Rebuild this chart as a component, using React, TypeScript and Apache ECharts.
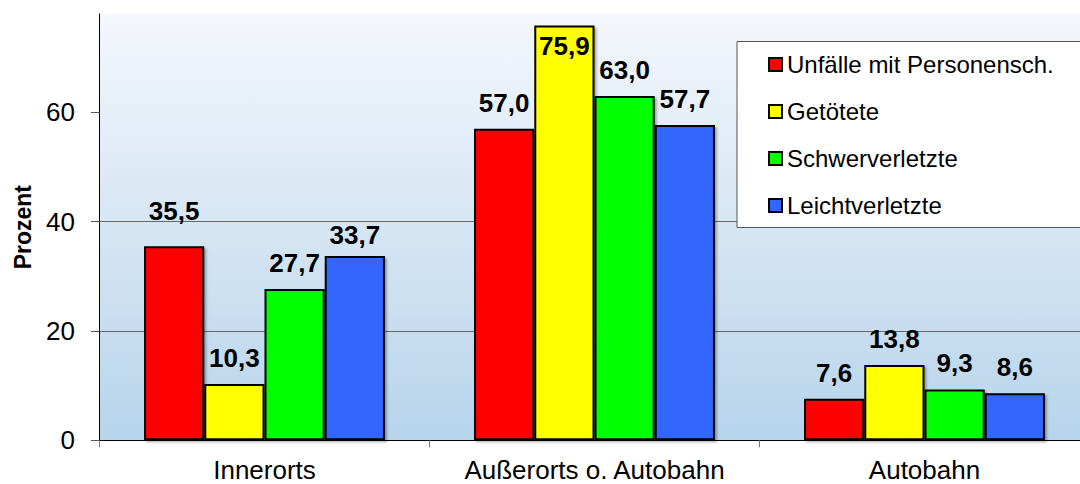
import React, { useEffect, useRef } from "react";
import * as echarts from "echarts";

const categories = ["Innerorts", "Außerorts o. Autobahn", "Autobahn"];
const seriesNames = ["Unfälle mit Personensch.", "Getötete", "Schwerverletzte", "Leichtverletzte"];
const unfaelle = [35.5, 57.0, 7.6];
const getoetete = [10.3, 75.9, 13.8];
const schwer = [27.7, 63.0, 9.3];
const leicht = [33.7, 57.7, 8.6];
const yTicks = [0, 20, 40, 60];
const colors = ["#ff0000", "#ffff00", "#00ff00", "#3366ff"];

const FONT = "'Liberation Sans', Arial, sans-serif";

// label placement tweaks (series index, category index) -> distance
function labelFor(si: number, ci: number, v: number) {
  if (v > 70) return { position: "insideTop", distance: 8 };
  if (si === 0 && ci === 0) return { distance: 22 };
  if (si === 3 && ci === 0) return { distance: 8 };
  return undefined;
}

export default function App() {
  const ref = useRef<HTMLDivElement>(null);
  useEffect(() => {
    if (!ref.current) return;
    const chart = echarts.init(ref.current, null, { renderer: "svg" });
    const fmt = (v: number) => v.toFixed(1).replace(".", ",");
    const allData = [unfaelle, getoetete, schwer, leicht];
    const series = allData.map((arr, si) => ({
      type: "bar",
      name: seriesNames[si],
      barGap: "0%",
      barCategoryGap: "27%",
      data: arr.map((v, ci) => {
        const l = labelFor(si, ci, v);
        return l ? { value: v, label: l } : { value: v };
      }),
      itemStyle: {
        color: colors[si],
        borderColor: "#000",
        borderWidth: 2,
        shadowColor: "rgba(0,0,0,0.3)",
        shadowBlur: 2,
        shadowOffsetX: 2,
        shadowOffsetY: 2,
      },
      label: {
        show: true,
        position: "top",
        distance: 13,
        formatter: (p: any) => fmt(p.value),
        fontFamily: FONT,
        fontWeight: "bold",
        fontSize: 26,
        color: "#000",
      },
    }));
    chart.setOption({
      animation: false,
      textStyle: { fontFamily: FONT },
      grid: {
        left: 99.5,
        width: 990,
        top: 14,
        bottom: 43.7,
        show: true,
        borderWidth: 0,
        containLabel: false,
        outerBoundsMode: "none",
        backgroundColor: {
          type: "linear",
          x: 0,
          y: 0,
          x2: 0,
          y2: 1,
          colorStops: [
            { offset: 0, color: "#f4f7fc" },
            { offset: 1, color: "#b7d4eb" },
          ],
        },
      },
      legend: {
        orient: "vertical",
        left: 737,
        top: 41.5,
        backgroundColor: "#fff",
        borderColor: "#555",
        borderWidth: 1,
        borderRadius: 0,
        padding: [11, 80, 10, 31],
        itemWidth: 13,
        itemHeight: 13,
        itemGap: 23,
        icon: "rect",
        itemStyle: { borderColor: "#000", borderWidth: 2 },
        textStyle: {
          fontFamily: FONT,
          fontSize: 24,
          color: "#000",
          lineHeight: 24,
        },
        data: seriesNames,
      },
      xAxis: {
        type: "category",
        data: categories,
        axisLine: { lineStyle: { color: "#000", width: 1 } },
        axisTick: { show: true, length: 7, lineStyle: { color: "#777" } },
        axisLabel: {
          fontFamily: FONT,
          fontSize: 26,
          color: "#000",
          margin: 17,
          interval: 0,
          hideOverlap: false,
        },
      },
      yAxis: {
        type: "value",
        min: 0,
        max: 78,
        interval: 20,
        name: "Prozent",
        nameLocation: "middle",
        nameGap: 65,
        nameTextStyle: {
          fontFamily: FONT,
          fontSize: 23,
          fontWeight: "bold",
          color: "#000",
        },
        axisLine: { show: true, lineStyle: { color: "#000", width: 1 } },
        axisTick: {
          show: true,
          length: 8.5,
          customValues: yTicks,
          lineStyle: { color: "#555" },
        },
        axisLabel: {
          fontFamily: FONT,
          fontSize: 26,
          color: "#000",
          margin: 24.5,
          customValues: yTicks,
        },
        splitLine: {
          show: true,
          showMinLine: false,
          showMaxLine: false,
          lineStyle: { color: "#666", width: 1 },
        },
      },
      series,
    });
    return () => chart.dispose();
  }, []);
  return (
    <div
      ref={ref}
      style={{ position: "absolute", left: 0, top: 0, width: 1080, height: 484 }}
    />
  );
}
